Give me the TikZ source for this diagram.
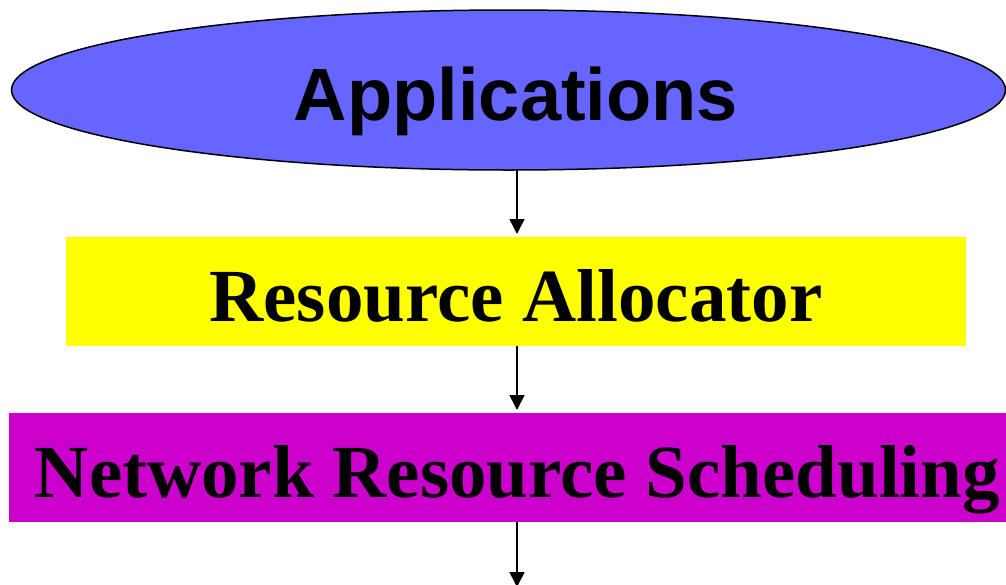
\documentclass[tikz,border=0pt]{standalone}
\usepackage{fontspec}
\setmainfont{Liberation Serif}
\newfontfamily\headsans{Liberation Sans}
\usetikzlibrary{shapes.geometric,arrows.meta}
\definecolor{appblue}{HTML}{6666FF}
\definecolor{allocyellow}{HTML}{FFFF00}
\definecolor{netmagenta}{HTML}{CC00CC}
\begin{document}
\begin{tikzpicture}[x=1pt,y=-1pt,
  layerbox/.style={rectangle,draw=none,inner sep=0pt,outer sep=0pt,minimum height=109pt},
  sanslabel/.style={anchor=base,inner sep=0pt,font=\headsans\bfseries\fontsize{74}{80}\selectfont},
  seriflabel/.style={anchor=base,inner sep=0pt,font=\bfseries\fontsize{75}{80}\selectfont},
  flow/.style={line width=1.5pt,-{Triangle[width=15pt,length=15pt]},shorten >=3pt}]
\useasboundingbox (0,0) rectangle (1006,584);
% top layer: applications
\node (app) [ellipse,draw=black,line width=1.5pt,fill=appblue,inner sep=0pt,outer sep=0pt,
  minimum width=994pt,minimum height=160pt] at (508.5,90) {};
\node (apptext) [sanslabel] at (516,120) {Applications};
% middle layer: allocator
\node (alloc) [layerbox,fill=allocyellow,minimum width=900pt] at (516,291.5) {};
\node (alloctext) [seriflabel] at (516,321) {Resource Allocator};
% bottom layer: scheduling
\node (net) [layerbox,fill=netmagenta,minimum width=997pt] at (507.5,467.5) {};
\node (nettext) [seriflabel] at (517.5,497) {Network Resource Scheduling};
\coordinate (out) at (517,587);
% connectors between layers
\draw[flow] (app.south -| out) -- (alloc.north -| out);
\draw[flow] (alloc.south -| out) -- (net.north -| out);
\draw[flow,shorten >=0pt] (net.south -| out) -- (out);
\end{tikzpicture}
\end{document}
